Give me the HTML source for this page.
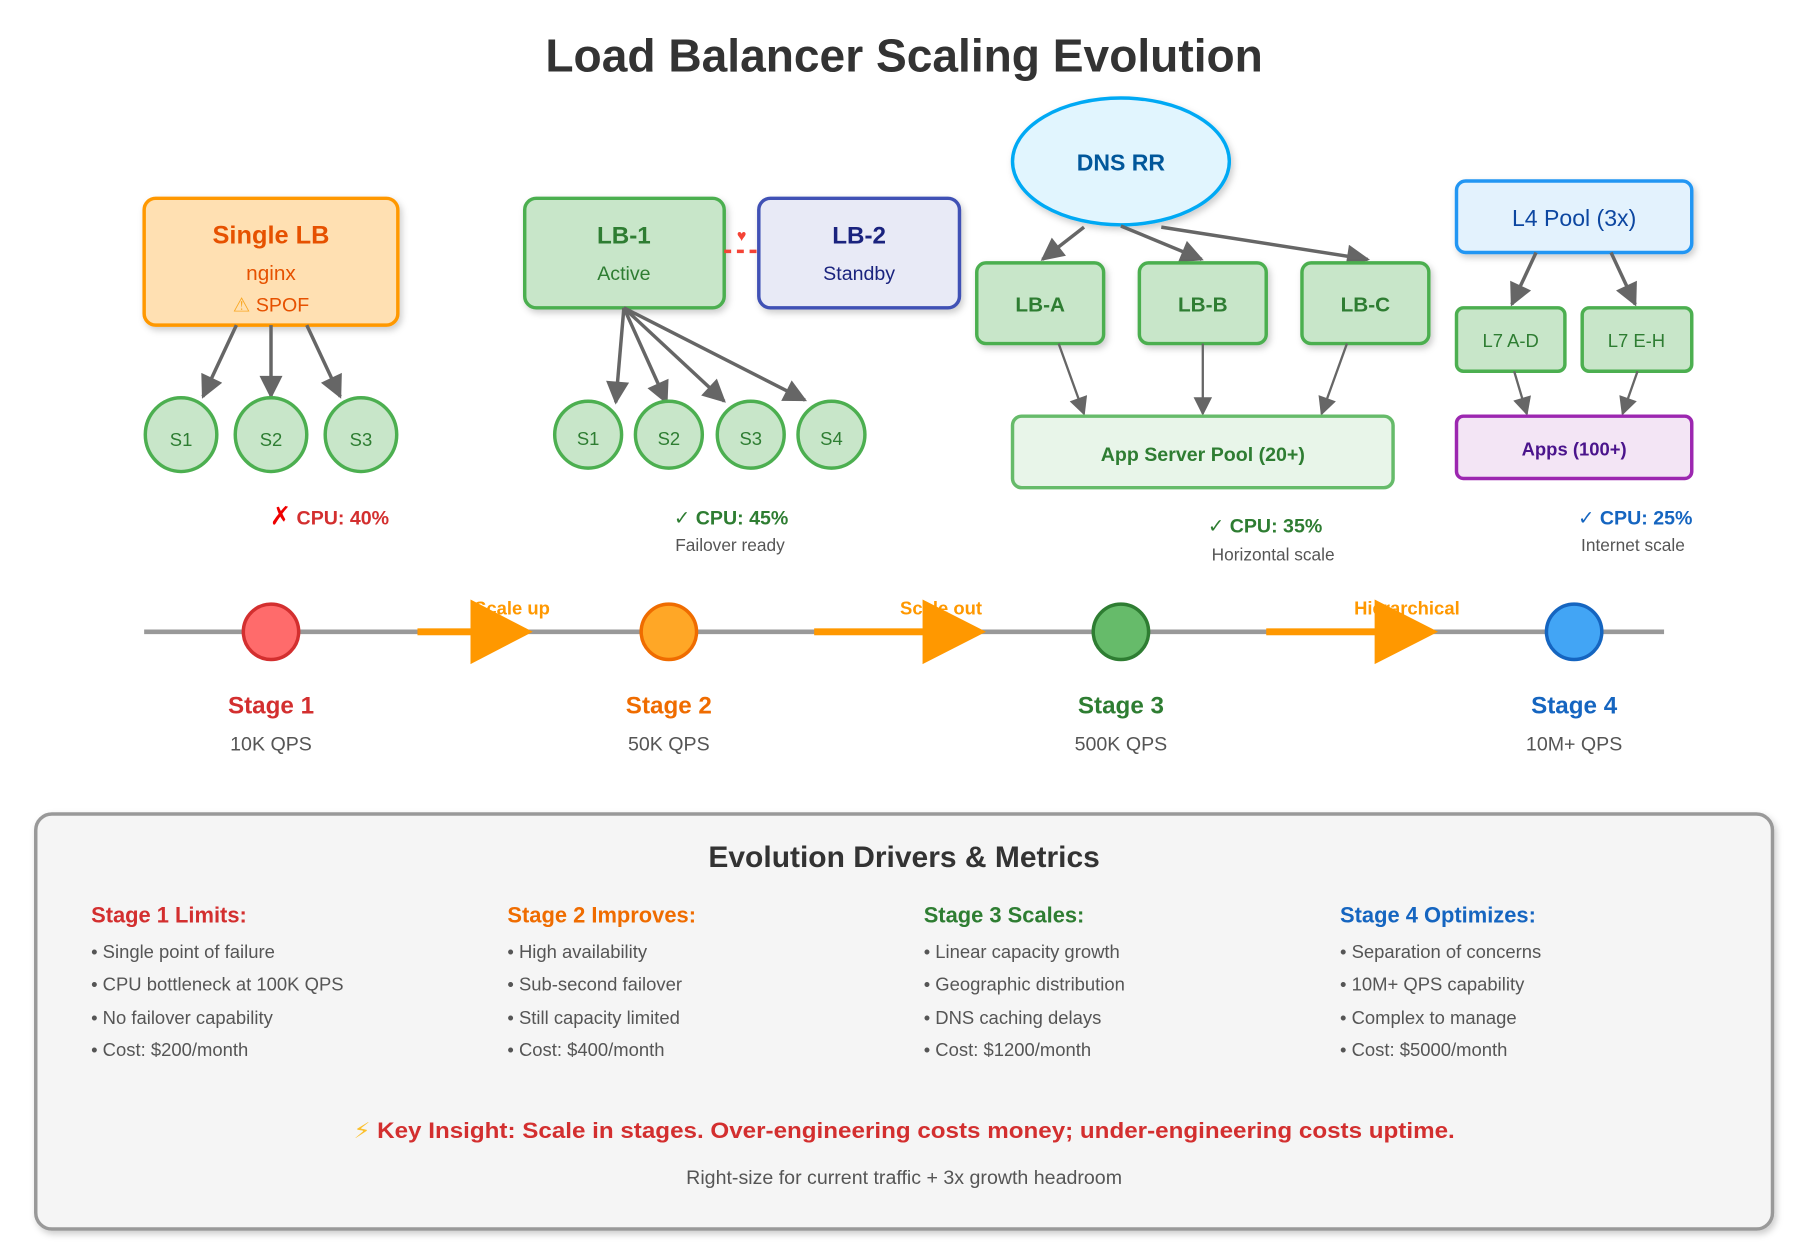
<!DOCTYPE html>
<html><head><meta charset="utf-8"><style>
html,body{margin:0;padding:0;background:#fff;}
svg{display:block;font-family:"Liberation Sans","DejaVu Sans",sans-serif;}
</style></head><body>
<svg width="1799" height="1259" viewBox="0 0 1560 1092" preserveAspectRatio="none" xmlns="http://www.w3.org/2000/svg">
<defs>
<marker id="ah" viewBox="0 0 10 10" refX="9" refY="5" markerUnits="userSpaceOnUse" markerWidth="22" markerHeight="20" orient="auto"><path d="M0,0 L10,5 L0,10 z" fill="#666"/></marker>
<marker id="as" viewBox="0 0 10 10" refX="9" refY="5" markerUnits="userSpaceOnUse" markerWidth="18" markerHeight="16" orient="auto"><path d="M0,0 L10,5 L0,10 z" fill="#666"/></marker>
<filter id="sh" x="-10%" y="-10%" width="130%" height="140%"><feDropShadow dx="2" dy="3" stdDeviation="3" flood-color="#000" flood-opacity="0.2"/></filter>
</defs>
<text x="784" y="62" text-anchor="middle" font-size="40" font-weight="bold" fill="#333">Load Balancer Scaling Evolution</text>

<!-- Stage 1 -->
<rect x="125" y="172" width="220" height="110" rx="10" fill="#ffe0b2" stroke="#ff9800" stroke-width="3" filter="url(#sh)"/>
<text x="235" y="211" text-anchor="middle" font-size="22" font-weight="bold" fill="#e65100">Single LB</text>
<text x="235" y="243" text-anchor="middle" font-size="18" fill="#e65100">nginx</text>
<text x="235" y="270" text-anchor="middle" font-size="17" fill="#e65100"><tspan fill="#f9a825">⚠</tspan> SPOF</text>
<g stroke="#666" stroke-width="3" marker-end="url(#ah)">
<line x1="205" y1="282" x2="176" y2="344"/><line x1="235" y1="282" x2="235" y2="344"/><line x1="266" y1="282" x2="295" y2="344"/>
</g>
<g fill="#c8e6c9" stroke="#4caf50" stroke-width="3">
<ellipse cx="157" cy="377" rx="31" ry="32"/><ellipse cx="235" cy="377" rx="31" ry="32"/><ellipse cx="313" cy="377" rx="31" ry="32"/>
</g>
<g font-size="16" fill="#2e7d32" text-anchor="middle"><text x="157" y="387">S1</text><text x="235" y="387">S2</text><text x="313" y="387">S3</text></g>
<text x="234" y="455" font-size="17" font-weight="bold" fill="#d32f2f"><tspan font-size="22" fill="#e00">✗</tspan> CPU: 40%</text>

<!-- Stage 2 -->
<rect x="455" y="172" width="173" height="95" rx="10" fill="#c8e6c9" stroke="#4caf50" stroke-width="3" filter="url(#sh)"/>
<text x="541" y="211" text-anchor="middle" font-size="21" font-weight="bold" fill="#2e7d32">LB-1</text>
<text x="541" y="243" text-anchor="middle" font-size="17" fill="#2e7d32">Active</text>
<rect x="658" y="172" width="174" height="95" rx="10" fill="#e8eaf6" stroke="#3f51b5" stroke-width="3" filter="url(#sh)"/>
<text x="745" y="211" text-anchor="middle" font-size="21" font-weight="bold" fill="#1a237e">LB-2</text>
<text x="745" y="243" text-anchor="middle" font-size="17" fill="#1a237e">Standby</text>
<line x1="628" y1="218" x2="658" y2="218" stroke="#f44336" stroke-width="3" stroke-dasharray="6,5"/>
<text x="643" y="209" text-anchor="middle" font-size="14" fill="#f44336">♥</text>
<g stroke="#666" stroke-width="3" marker-end="url(#ah)">
<line x1="541" y1="267" x2="534" y2="349"/><line x1="541" y1="267" x2="578" y2="349"/><line x1="541" y1="267" x2="628" y2="348"/><line x1="541" y1="267" x2="698" y2="347"/>
</g>
<g fill="#c8e6c9" stroke="#4caf50" stroke-width="3">
<circle cx="510" cy="377" r="29"/><circle cx="580" cy="377" r="29"/><circle cx="651" cy="377" r="29"/><circle cx="721" cy="377" r="29"/>
</g>
<g font-size="16" fill="#2e7d32" text-anchor="middle"><text x="510" y="386">S1</text><text x="580" y="386">S2</text><text x="651" y="386">S3</text><text x="721" y="386">S4</text></g>
<text x="634" y="455" text-anchor="middle" font-size="17" font-weight="bold" fill="#2e7d32">✓ CPU: 45%</text>
<text x="633" y="478" text-anchor="middle" font-size="15" fill="#555">Failover ready</text>

<!-- Stage 3 -->
<ellipse cx="972" cy="140" rx="94" ry="55" fill="#e1f5fe" stroke="#03a9f4" stroke-width="3" filter="url(#sh)"/>
<text x="972" y="148" text-anchor="middle" font-size="20" font-weight="bold" fill="#01579b">DNS RR</text>
<g stroke="#666" stroke-width="3" marker-end="url(#ah)">
<line x1="940" y1="197" x2="904" y2="225"/><line x1="972" y1="196" x2="1042" y2="225"/><line x1="1007" y1="197" x2="1186" y2="225"/>
</g>
<g fill="#c8e6c9" stroke="#4caf50" stroke-width="3" filter="url(#sh)">
<rect x="847" y="228" width="110" height="70" rx="8"/><rect x="988" y="228" width="110" height="70" rx="8"/><rect x="1129" y="228" width="110" height="70" rx="8"/>
</g>
<g font-size="18" font-weight="bold" fill="#2e7d32" text-anchor="middle"><text x="902" y="270">LB-A</text><text x="1043" y="270">LB-B</text><text x="1184" y="270">LB-C</text></g>
<g stroke="#666" stroke-width="2" marker-end="url(#as)">
<line x1="918" y1="298" x2="940" y2="359"/><line x1="1043" y1="298" x2="1043" y2="359"/><line x1="1168" y1="298" x2="1146" y2="359"/>
</g>
<rect x="878" y="361" width="330" height="62" rx="8" fill="#e8f5e9" stroke="#66bb6a" stroke-width="3"/>
<text x="1043" y="400" text-anchor="middle" font-size="17" font-weight="bold" fill="#2e7d32">App Server Pool (20+)</text>
<text x="1097" y="462" text-anchor="middle" font-size="17" font-weight="bold" fill="#2e7d32">✓ CPU: 35%</text>
<text x="1104" y="486" text-anchor="middle" font-size="15" fill="#555">Horizontal scale</text>

<!-- Stage 4 -->
<rect x="1263" y="157" width="204" height="62" rx="8" fill="#e3f2fd" stroke="#2196f3" stroke-width="3" filter="url(#sh)"/>
<text x="1365" y="196" text-anchor="middle" font-size="20" fill="#0d47a1">L4 Pool (3x)</text>
<g stroke="#666" stroke-width="3" marker-end="url(#ah)">
<line x1="1332" y1="219" x2="1311" y2="264"/><line x1="1397" y1="219" x2="1418" y2="264"/>
</g>
<g fill="#c8e6c9" stroke="#4caf50" stroke-width="3">
<rect x="1263" y="267" width="94" height="55" rx="6"/><rect x="1372" y="267" width="95" height="55" rx="6"/>
</g>
<g font-size="16" fill="#2e7d32" text-anchor="middle"><text x="1310" y="301">L7 A-D</text><text x="1419" y="301">L7 E-H</text></g>
<g stroke="#666" stroke-width="2" marker-end="url(#as)">
<line x1="1313" y1="322" x2="1324" y2="359"/><line x1="1420" y1="322" x2="1407" y2="359"/>
</g>
<rect x="1263" y="361" width="204" height="54" rx="6" fill="#f3e5f5" stroke="#9c27b0" stroke-width="3"/>
<text x="1365" y="395" text-anchor="middle" font-size="16" font-weight="bold" fill="#4a148c">Apps (100+)</text>
<text x="1418" y="455" text-anchor="middle" font-size="17" font-weight="bold" fill="#1565c0">✓ CPU: 25%</text>
<text x="1416" y="478" text-anchor="middle" font-size="15" fill="#555">Internet scale</text>

<!-- Timeline -->
<line x1="125" y1="548" x2="1443" y2="548" stroke="#999" stroke-width="4"/>
<g font-size="16" font-weight="bold" fill="#ff9800" text-anchor="middle">
<text x="444" y="533">Scale up</text><text x="816" y="533">Scale out</text><text x="1220" y="533">Hierarchical</text>
</g>
<g fill="#ff9800">
<rect x="362" y="545" width="48" height="6"/><path d="M408,520 L462,548 L408,576 z"/>
<rect x="706" y="545" width="96" height="6"/><path d="M800,520 L855,548 L800,576 z"/>
<rect x="1098" y="545" width="96" height="6"/><path d="M1192,520 L1247,548 L1192,576 z"/>
</g>
<circle cx="235" cy="548" r="24" fill="#ff6b6b" stroke="#d32f2f" stroke-width="3"/>
<circle cx="580" cy="548" r="24" fill="#ffa726" stroke="#ef6c00" stroke-width="3"/>
<circle cx="972" cy="548" r="24" fill="#66bb6a" stroke="#2e7d32" stroke-width="3"/>
<circle cx="1365" cy="548" r="24" fill="#42a5f5" stroke="#1565c0" stroke-width="3"/>
<g font-size="21" font-weight="bold" text-anchor="middle">
<text x="235" y="619" fill="#d32f2f">Stage 1</text><text x="580" y="619" fill="#ef6c00">Stage 2</text><text x="972" y="619" fill="#2e7d32">Stage 3</text><text x="1365" y="619" fill="#1565c0">Stage 4</text>
</g>
<g font-size="17" fill="#555" text-anchor="middle">
<text x="235" y="651">10K QPS</text><text x="580" y="651">50K QPS</text><text x="972" y="651">500K QPS</text><text x="1365" y="651">10M+ QPS</text>
</g>

<!-- Bottom panel -->
<rect x="31" y="706" width="1506" height="360" rx="14" fill="#f5f5f5" stroke="#999" stroke-width="3" filter="url(#sh)"/>
<text x="784" y="752" text-anchor="middle" font-size="26" font-weight="bold" fill="#333">Evolution Drivers &amp; Metrics</text>
<g font-size="19" font-weight="bold">
<text x="79" y="800" fill="#d32f2f">Stage 1 Limits:</text>
<text x="440" y="800" fill="#ef6c00">Stage 2 Improves:</text>
<text x="801" y="800" fill="#2e7d32">Stage 3 Scales:</text>
<text x="1162" y="800" fill="#1565c0">Stage 4 Optimizes:</text>
</g>
<g font-size="16" fill="#555">
<text x="79" y="831">• Single point of failure</text><text x="79" y="859">• CPU bottleneck at 100K QPS</text><text x="79" y="888">• No failover capability</text><text x="79" y="916">• Cost: $200/month</text>
<text x="440" y="831">• High availability</text><text x="440" y="859">• Sub-second failover</text><text x="440" y="888">• Still capacity limited</text><text x="440" y="916">• Cost: $400/month</text>
<text x="801" y="831">• Linear capacity growth</text><text x="801" y="859">• Geographic distribution</text><text x="801" y="888">• DNS caching delays</text><text x="801" y="916">• Cost: $1200/month</text>
<text x="1162" y="831">• Separation of concerns</text><text x="1162" y="859">• 10M+ QPS capability</text><text x="1162" y="888">• Complex to manage</text><text x="1162" y="916">• Cost: $5000/month</text>
</g>
<text x="784" y="987" text-anchor="middle" font-size="19" font-weight="bold" fill="#d32f2f" textLength="955" lengthAdjust="spacingAndGlyphs"><tspan fill="#fbc02d">⚡</tspan> Key Insight: Scale in stages. Over-engineering costs money; under-engineering costs uptime.</text>
<text x="784" y="1027" text-anchor="middle" font-size="17" fill="#555">Right-size for current traffic + 3x growth headroom</text>
</svg>
</body></html>
